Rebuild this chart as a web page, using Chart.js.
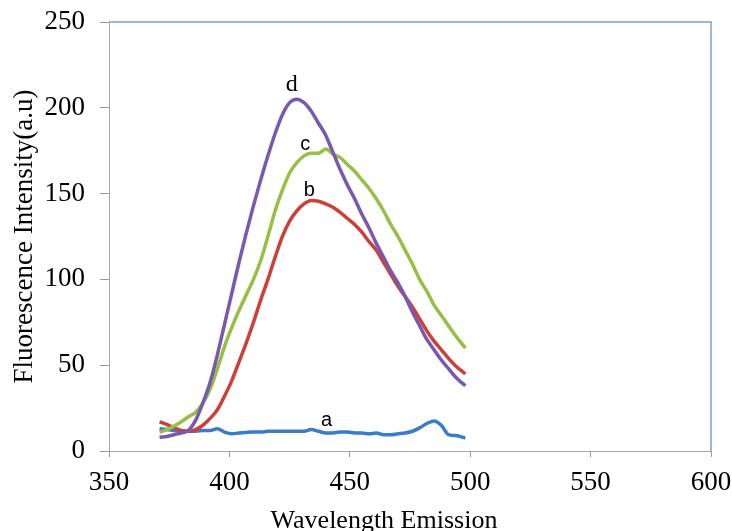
<!DOCTYPE html>
<html><head><meta charset="utf-8">
<script src="https://cdn.jsdelivr.net/npm/chart.js@4.4.1/dist/chart.umd.min.js"></script>
<style>html,body{margin:0;padding:0;background:#fff}canvas{display:block}</style>
</head><body>
<canvas id="c" width="732" height="531"></canvas>
<script>
const wavelengths = [371,374,377,380,383,386,389,392,395,398,401,404,407,410,413,416,419,422,425,428,431,434,437,440,443,446,449,452,455,458,461,464,467,470,473,476,479,482,485,488,491,494,498];
const seriesA = [13,12.5,12,11.5,11.5,11.5,12,12,13,11,10,10.5,10.8,11,11,11.5,11.5,11.5,11.5,11.5,11.5,12.5,11.5,10.5,10.5,11,11,10.5,10.5,10,10.5,9.5,9.5,10,10.5,11.5,13.5,16,17.5,15,9.5,9,7.5];
const seriesB = [17,15.5,13.5,12,11.5,12.5,15,19,24,32,41,52,63,75,88,100,113,125,134,140,144,146,145.5,144,142,139,135.5,132,127.5,122,117,110,103,96,90,84,77,70,64,59,54,49.5,45];
const seriesC = [11,12.5,14.5,17,20,22.5,28,36,48,61,72,82,91,100,111,125,140,152,162,168,172,173.5,173.5,176,173,171,167,163,158,153,147,140,132,125,117,109,100,93,85,79,73,67,60];
const seriesD = [8,8.5,9.5,10.5,12,18,28,40,56,74,92,110,127,143,158,172,185,196,203,205,203,198,191,184,174,164,155,147,138,130,121,113,105,98,90,81,73,65,59,53,48,43,38];
const xTicks = [350,400,450,500,550,600];
const yTicks = [0,50,100,150,200,250];
const seriesNames = ['a','b','c','d'];
const xTitle = 'Wavelength Emission';
const yTitle = 'Fluorescence Intensity(a.u)';

const toPts = ys => wavelengths.map((w,i)=>({x:w,y:ys[i]}));

const curveTags = [
  {text:'d', x:425.9, y:213.4, font:'24px "Liberation Serif"'},
  {text:'c', x:431.5, y:178.4, font:'20px "Liberation Sans"'},
  {text:'b', x:433.2, y:152.1, font:'20px "Liberation Sans"'},
  {text:'a', x:440.3, y:17.9, font:'20px "Liberation Sans"'}
];

const framePlugin = {
  id:'frame',
  afterDraw(chart){
    const {ctx, chartArea:a, scales} = chart;
    ctx.save();
    ctx.strokeStyle = '#7aa1d6';
    ctx.lineWidth = 1.5;
    ctx.beginPath();
    ctx.moveTo(a.left, a.top); ctx.lineTo(a.right, a.top); ctx.lineTo(a.right, a.bottom);
    ctx.stroke();
    ctx.fillStyle = '#000';
    ctx.textAlign = 'center';
    ctx.textBaseline = 'middle';
    curveTags.forEach(t=>{
      ctx.font = t.font;
      ctx.fillText(t.text, scales.x.getPixelForValue(t.x), scales.y.getPixelForValue(t.y));
    });
    ctx.font = '26px "Liberation Serif"';
    ctx.textBaseline = 'alphabetic';
    ctx.fillText(xTitle, 384, 528);
    ctx.restore();
  }
};

const colors = ['#3b7cc8','#cf3f3a','#95c044','#7a58b0'];
const allSeries = [seriesA, seriesB, seriesC, seriesD];

new Chart(document.getElementById('c'), {
  type:'line',
  data:{
    datasets: allSeries.map((s,i)=>({
      label: seriesNames[i],
      data: toPts(s),
      borderColor: colors[i],
      backgroundColor: colors[i],
      borderWidth: 3.5,
      pointRadius: 0,
      cubicInterpolationMode: 'monotone',
      fill: false,
      order: 4 - i
    }))
  },
  options:{
    responsive:false,
    animation:false,
    layout:{padding:{top:22,right:21,left:0,bottom:0}},
    plugins:{legend:{display:false}, tooltip:{enabled:false}},
    scales:{
      x:{
        type:'linear', min:350, max:600,
        afterBuildTicks: s => { s.ticks = xTicks.map(v=>({value:v})); },
        afterFit: s => { s.height = 80; s.paddingLeft = 0; s.paddingRight = 0; },
        grid:{drawOnChartArea:false, drawTicks:true, tickLength:6, color:'#9a9a9a'},
        border:{color:'#a8a8a8', dash:[2,2], width:1},
        ticks:{color:'#000', padding:10, font:{family:'Liberation Serif', size:27}, maxRotation:0}
      },
      y:{
        type:'linear', min:0, max:250,
        afterBuildTicks: s => { s.ticks = yTicks.map(v=>({value:v})); },
        afterFit: s => { s.width = 109; s.paddingTop = 0; s.paddingBottom = 0; },
        grid:{drawOnChartArea:false, drawTicks:true, tickLength:9, color:'#9a9a9a'},
        border:{color:'#a8a8a8', dash:[2,2], width:1},
        ticks:{color:'#000', padding:15, font:{family:'Liberation Serif', size:27}},
        title:{display:true, text:yTitle, color:'#000', font:{family:'Liberation Serif', size:27}, padding:{top:9,bottom:0}}
      }
    }
  },
  plugins:[framePlugin]
});
</script>
</body></html>
